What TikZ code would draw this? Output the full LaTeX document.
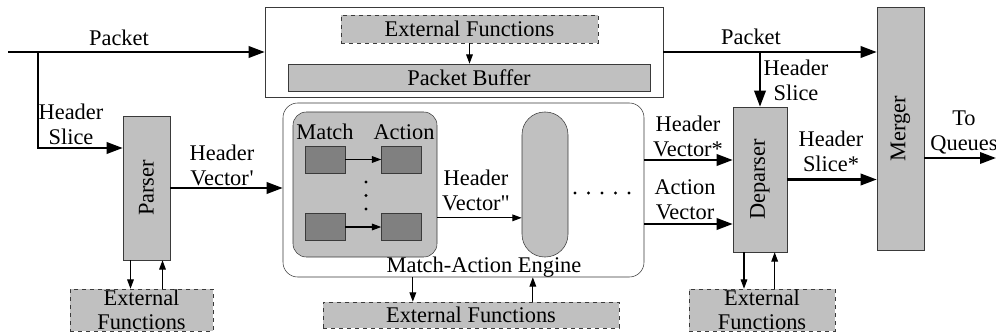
\documentclass[tikz,border=0pt]{standalone}
\usepackage{fontspec}
\setmainfont{Liberation Serif}
\usetikzlibrary{arrows.meta,positioning,calc}
\definecolor{boxgray}{HTML}{C0C0C0}
\definecolor{cellgray}{HTML}{808080}
\definecolor{edge}{HTML}{3A3A3A}
\tikzset{
  blk/.style={draw=edge,fill=boxgray,inner sep=0pt},
  ext/.style={draw=edge,dashed,fill=boxgray,inner sep=0pt,align=center,font=\fontsize{16.8}{18}\selectfont},
  cell/.style={draw=edge,fill=cellgray,minimum width=30pt,minimum height=20.25pt},
  lbl/.style={align=center,inner sep=0pt},
  bus/.style={-{Triangle[length=12pt,width=8.5pt]},line width=1.8pt},
  sig/.style={-{Triangle[length=7pt,width=5pt]},line width=0.8pt}
}

\begin{document}
\begin{tikzpicture}[x=0.75pt,y=-0.75pt,font=\fontsize{16.8}{18.75}\selectfont]
  \useasboundingbox (0,0) rectangle (996,335);
  % packet storage
  \node[draw=edge,fill=white,inner sep=0pt,minimum width=298.5pt,minimum height=67.5pt] (store) at (464,52) {};
  \node[ext,minimum width=192.75pt,minimum height=21pt] (topext) at (469.5,29) {External Functions};
  \node[blk,minimum width=271.5pt,minimum height=20.25pt] (buffer) at (469,77.5) {Packet Buffer};
  % parser, engine, deparser, merger
  \node[blk,minimum width=35.25pt,minimum height=108pt] (parser) at (146.5,188) {\rotatebox{90}{Parser}};
  \node[draw=edge,fill=white,rounded corners=11pt,minimum width=270.75pt,minimum height=130.5pt] (mae) at (463.5,190) {};
  \node[blk,rounded corners=10pt,minimum width=108pt,minimum height=108.75pt] (stage) at (365,184.5) {};
  \node[blk,rounded corners=17pt,minimum width=34.5pt,minimum height=108.75pt] (nextstage) at (545,184.5) {};
  \node[blk,minimum width=40.5pt,minimum height=108.75pt] (deparser) at (760,179.5) {\rotatebox{90}{Deparser}};
  \node[blk,minimum width=35.25pt,minimum height=182.25pt] (merger) at (900.5,128.5) {\rotatebox{90}{Merger}};
  % match and action tables
  \node[cell] (m1) at (325,159.5) {};
  \node[cell] (a1) at (401.5,159.5) {};
  \node[cell] (m2) at (325,227) {};
  \node[cell] (a2) at (401.5,227) {};
  \node[lbl] (lmatch) at (325,132) {Match};
  \node[lbl] (laction) at (404,132) {Action};
  \foreach \y in {182,195.5,209} \fill (366,\y) circle (1.2pt);
  \foreach \x in {575,588.5,602,615.5,629} \fill (\x,193) circle (1.2pt);
  % external functions below
  \node[ext,minimum width=107.25pt,minimum height=31.5pt] (pext) at (141.5,310) {External\\Functions};
  \node[ext,minimum width=222pt,minimum height=19.5pt] (mext) at (471,315) {External Functions};
  \node[ext,minimum width=109.5pt,minimum height=31.5pt] (dext) at (762,310) {External\\Functions};
  % labels
  \node[lbl] (lpkt) at (119,38) {Packet};
  \node[lbl] (lhs) at (71,124) {Header\\Slice};
  \node[lbl] (lhv) at (222,165) {Header\\Vector\kern0.5pt\textquotesingle};
  \node[lbl] (lhv2) at (476,190) {Header\\Vector\textquotedbl};
  \node[lbl] (lmae) at (484,267) {Match-Action Engine};
  \node[lbl] (lpkt2) at (751,37) {Packet};
  \node[lbl] (lhs2) at (796,80) {Header\\Slice};
  \node[lbl] (lhvs) at (688,136) {Header\\Vector*};
  \node[lbl] (lav) at (685,200) {Action\\Vector};
  \node[lbl] (lhss) at (831,151) {Header\\Slice*};
  \node[lbl] (lq) at (964,132) {To\\Queues};
  % connectors
  \coordinate (pin) at (8,52);
  \coordinate (split) at (38,52);
  \coordinate (turn) at (38,148);
  \coordinate (out) at (996,158);
  \coordinate (tap) at (store.east -| deparser.north);
  \draw[bus] (pin) -- (store.west);
  \draw[bus] (split) -- (turn) -- (turn -| parser.west);
  \draw[bus] (parser.east) -- (parser.east -| mae.west);
  \draw[bus] (store.east) -- (store.east -| merger.west);
  \draw[bus] (tap) -- (deparser.north);
  \draw[bus] ([yshift=22.5pt]mae.east) -- ([yshift=22.5pt]mae.east -| deparser.west);
  \draw[bus] ([yshift=-25.5pt]mae.east) -- ([yshift=-25.5pt]mae.east -| deparser.west);
  \draw[bus] (deparser.east) -- (deparser.east -| merger.west);
  \draw[bus] (merger.east |- out) -- (out);
  \draw[sig] (topext.south) -- (topext.south |- buffer.north);
  \draw[sig] (m1) -- (a1);
  \draw[sig] (m2) -- (a2);
  \draw[sig] ([yshift=-25pt]stage.east) -- ([yshift=-25pt]stage.east -| nextstage.west);
  \draw[sig] ([xshift=-12pt]parser.south) -- ([xshift=-12pt]parser.south |- pext.north);
  \draw[sig] ([xshift=12pt]parser.south |- pext.north) -- ([xshift=12pt]parser.south);
  \draw[sig] ([xshift=-38pt]mae.south) -- ([xshift=-38pt]mae.south |- mext.north);
  \draw[sig] ([xshift=52pt]mae.south |- mext.north) -- ([xshift=52pt]mae.south);
  \draw[sig] ([xshift=-12pt]deparser.south) -- ([xshift=-12pt]deparser.south |- dext.north);
  \draw[sig] ([xshift=11pt]deparser.south |- dext.north) -- ([xshift=11pt]deparser.south);
\end{tikzpicture}
\end{document}
